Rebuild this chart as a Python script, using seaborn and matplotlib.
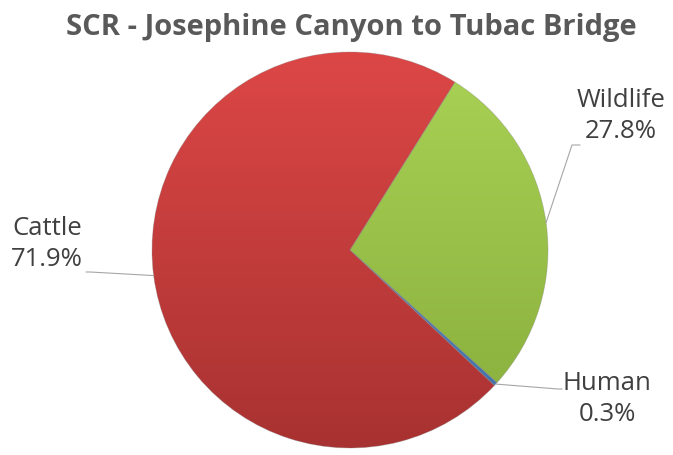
import numpy as np
import seaborn as sns
import matplotlib.pyplot as plt
from matplotlib.colors import LinearSegmentedColormap

# Data
labels = ["Wildlife", "Human", "Cattle"]
shares = [27.8, 0.3, 71.9]
pct_text = ["27.8%", "0.3%", "71.9%"]

# top / bottom colour of each slice (Excel-like gradient)
top_colors = ["#a9d255", "#5b8fd0", "#dc4746"]
bottom_colors = ["#88ad3c", "#3f6fa8", "#a83231"]

sns.set_theme(style="white")
plt.rcParams['font.family'] = ['Open Sans', 'DejaVu Sans']

W, H = 673, 455
fig = plt.figure(figsize=(W / 100, H / 100), dpi=100)
cx, cy, r = 350, 250, 198
ax = fig.add_axes([(cx - r) / W, (H - cy - r) / H, 2 * r / W, 2 * r / H])

start = 90 - 32
wedges, _ = ax.pie(shares, startangle=start, counterclock=False,
                   colors=top_colors, radius=1,
                   wedgeprops=dict(linewidth=0.6, edgecolor="white"))
ax.set_aspect("equal")
ax.axis("off")

# vertical gradient fill clipped to each wedge
yy = np.linspace(1, 0, 256).reshape(-1, 1)
for w, c0, c1 in zip(wedges, top_colors, bottom_colors):
    cmap = LinearSegmentedColormap.from_list("g", [c1, c0])
    im = ax.imshow(np.repeat(yy, 2, axis=1), cmap=cmap, vmin=0, vmax=1,
                   extent=(-1, 1, -1, 1), aspect="auto", zorder=w.get_zorder() + 0.1)
    im.set_clip_path(w)
    w.set_zorder(w.get_zorder() + 0.2)
    w.set_facecolor("none")
    w.set_edgecolor((0.5, 0.5, 0.5, 0.35))

ax.set_xlim(-1, 1)
ax.set_ylim(-1, 1)


def to_data(px, py):
    return (px - cx) / r, (cy - py) / r


# label positions (pixels) and leader elbows
text_pos = [(621, 116), (607, 399), (47, 244)]
elbows = [[(572, 145), (580, 145)], [(558, 389), (562, 389)], [(90, 272), (86, 272)]]

for w, lab, pct, tp, elb in zip(wedges, labels, pct_text, text_pos, elbows):
    mid = np.deg2rad((w.theta1 + w.theta2) / 2)
    ax_pt = (np.cos(mid), np.sin(mid))
    pts = [ax_pt] + [to_data(*p) for p in elb]
    ax.plot([p[0] for p in pts], [p[1] for p in pts], color="#a6a6a6",
            lw=0.8, clip_on=False, zorder=5)
    tx, ty = to_data(*tp)
    ax.text(tx, ty, f"{lab}\n{pct}", ha="center", va="center", fontsize=18.5,
            color="#404040", linespacing=1.3, clip_on=False)

fig.text(351 / W, 1 - 28 / H, "SCR - Josephine Canyon to Tubac Bridge",
         ha="center", va="center", fontsize=21, fontweight="bold", color="#595959")

fig.savefig("out.png", dpi=100)
